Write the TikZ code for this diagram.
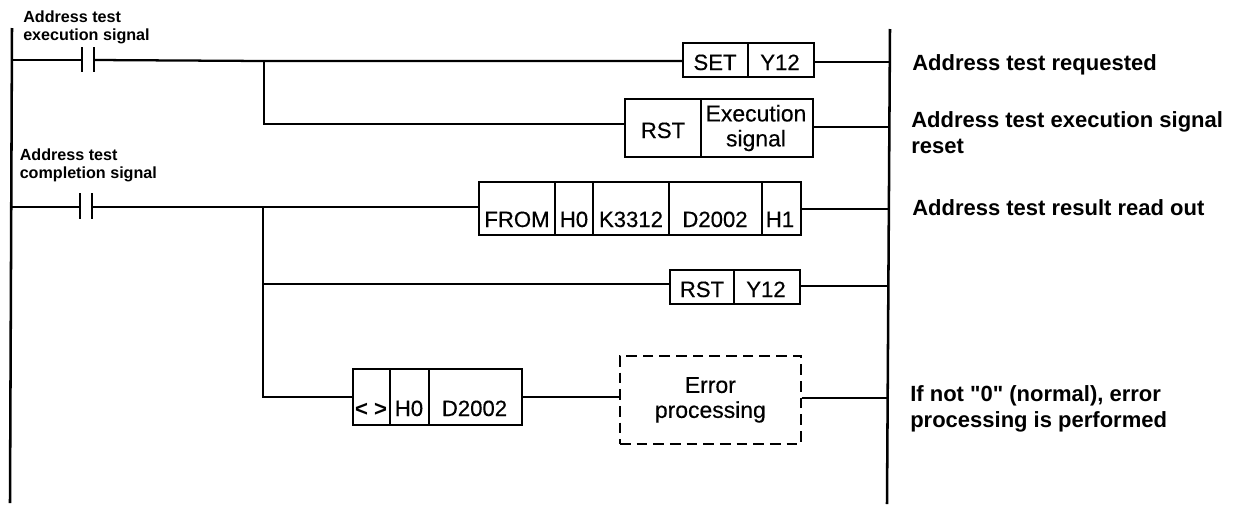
\documentclass[tikz,border=0pt]{standalone}
\usepackage{fontspec}
\setmainfont{Liberation Sans}
\newfontfamily\plainf{Liberation Sans}
\newfontfamily\cellf[FakeBold=0.4]{Liberation Sans}
\tikzset{
  wire/.style={line width=1.7pt},
  rail/.style={line width=1.9pt},
  cbox/.style={draw,line width=1.3pt,inner sep=0pt,anchor=north west},
  dbox/.style={draw,line width=1.3pt,dash pattern=on 8pt off 4.5pt,inner sep=0pt,anchor=north west,align=center,font=\cellf\fontsize{17.2}{18.75}\selectfont},
  cell/.style={font=\cellf\fontsize{16.6}{18}\selectfont,inner sep=0pt,align=center,anchor=base},
  note/.style={font=\plainf\fontsize{16.5}{19.5}\selectfont\bfseries,inner sep=0pt,anchor=base west},
  notes/.style={font=\plainf\fontsize{16.5}{19.5}\selectfont\bfseries,inner sep=0pt,anchor=north west,align=left},
  sig/.style={font=\plainf\fontsize{12.1}{13.5}\selectfont\bfseries,inner sep=0pt,anchor=north west,align=left},
  bar/.style={line width=1.9pt},
  divider/.style={line width=1.2pt}
}
\begin{document}
\begin{tikzpicture}[x=0.75pt,y=-0.75pt]
\useasboundingbox (0,0) rectangle (1233,504);
% rails
\coordinate (lt) at (12,28); \coordinate (lb) at (10,503);
\coordinate (rt) at (890,29); \coordinate (rb) at (887,504);
\draw[rail] (lt) -- (lb);
\draw[rail] (rt) -- (rb);
% boxes
\node[cbox,minimum width=98.25pt,minimum height=25.5pt] (set) at (682,42) {};
\node[cbox,minimum width=141pt,minimum height=43.5pt] (rst1) at (624,98) {};
\node[cbox,minimum width=241.5pt,minimum height=40pt] (from) at (478,181) {};
\node[cbox,minimum width=97.5pt,minimum height=25.5pt] (rst2) at (669,269) {};
\node[cbox,minimum width=126.75pt,minimum height=42pt] (ne) at (352,368) {};
\node[dbox,minimum width=135.75pt,minimum height=66pt] (err) at (619,355) {Error\\processing};
% dividers
\draw[divider] (748,42) -- (748,76);
\draw[divider] (701,98) -- (701,156);
\foreach \x in {555,593,669,762} \draw[divider] (\x,181) -- (\x,234);
\draw[divider] (734,269) -- (734,303);
\foreach \x in {390,429} \draw[divider] (\x,368) -- (\x,424);
% cell text
\node[cell] (t1) at (715,70) {SET};
\node[cell] (t2) at (780,70) {Y12};
\node[cell] (t3) at (663,138) {RST};
\node[cell,anchor=center,font=\cellf\fontsize{17.2}{18.75}\selectfont] (t4) at (756,128) {Execution\\signal};
\node[cell] (t5) at (517,227) {FROM};
\node[cell] (t6) at (574,227) {H0};
\node[cell] (t7) at (631,227) {K3312};
\node[cell] (t8) at (715,227) {D2002};
\node[cell] (t9) at (780,227) {H1};
\node[cell] (t10) at (702,297) {RST};
\node[cell] (t11) at (766,297) {Y12};
\node[cell,font=\plainf\fontsize{16.6}{18}\selectfont\bfseries] (t12) at (371,416) {< >};
\node[cell] (t13) at (409,416) {H0};
\node[cell] (t14) at (474.5,416) {D2002};
% contacts
\draw[bar] (82,47) -- (82,72); \draw[bar] (94,47) -- (94,72);
\draw[bar] (80,193) -- (80,219); \draw[bar] (92,193) -- (92,219);
% wires
\coordinate (j1) at (264,61); \coordinate (j2) at (263,207);
\draw[wire] (12,60) -- (82,60);
\draw[wire] (94,60) -- (j1) -- (set.west |- 0,61);
\draw[wire] (j1) -- (264,124) -- (rst1.west |- 0,124);
\draw[wire] (set.east |- 0,62) -- (889,62);
\draw[wire] (rst1.east |- 0,127) -- (889,127);
\draw[wire] (11,207) -- (80,207);
\draw[wire] (92,207) -- (j2) -- (from.west |- 0,207);
\draw[wire] (from.east |- 0,209) -- (888,209);
\draw[wire] (j2) -- (263,397) -- (ne.west |- 0,397);
\draw[wire] (263,284) -- (rst2.west |- 0,284);
\draw[wire] (rst2.east |- 0,286) -- (888,286);
\draw[wire] (ne.east |- 0,397) -- (err.west |- 0,397);
\draw[wire] (err.east |- 0,398) -- (888,398);
% texts
\node[sig] (s1) at (23,11) {Address test\\execution signal};
\node[sig] (s2) at (19.5,149) {Address test\\completion signal};
\node[note] (n1) at (912,70) {Address test requested};
\node[notes] (n2) at (911,111) {Address test execution signal\\reset};
\node[note] (n3) at (912,215) {Address test result read out};
\node[notes] (n4) at (910,385) {If not "0" (normal), error\\processing is performed};
\end{tikzpicture}
\end{document}
